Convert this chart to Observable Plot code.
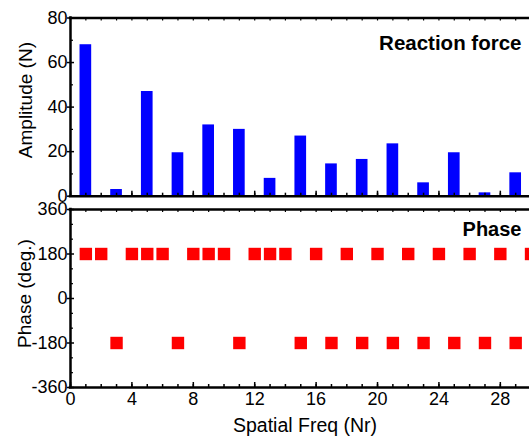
<!DOCTYPE html>
<html><head><meta charset="utf-8">
<script src="https://cdn.jsdelivr.net/npm/d3@7"></script>
<script src="https://cdn.jsdelivr.net/npm/@observablehq/plot@0.6"></script>
<style>body{margin:0;background:#fff;} svg{display:block;overflow:visible;}</style>
</head><body><div id="chart"></div>
<script>
// ---- data ----
const barFreq = [1, 3, 5, 7, 9, 11, 13, 15, 17, 19, 21, 23, 25, 27, 29];
const amplitude = [68, 3, 47, 19.5, 32, 30, 8, 27, 14.5, 16.5, 23.5, 6, 19.5, 1.5, 10.5];
const phaseFreq = [1,2,3,4,5,6,7,8,9,10,11,12,13,14,15,16,17,18,19,20,21,22,23,24,25,26,27,28,29,30];
const phaseDeg = [180,180,-180,180,180,180,-180,180,180,180,-180,180,180,180,-180,180,-180,180,-180,180,-180,180,-180,180,-180,180,-180,180,-180,180];
const xTicks = [0, 4, 8, 12, 16, 20, 24, 28];
const ampTicks = [0, 20, 40, 60, 80];
const phaseTicks = [-360, -180, 0, 180, 360];
const xMinor = d3.range(0, 30, 1);
const ampMinor = [10, 30, 50, 70];
const phaseMinor = [-300, -240, -120, -60, 60, 120, 240, 300];

const bars = barFreq.map((f, i) => ({f, amp: amplitude[i]}));
const phase = phaseFreq.map((f, i) => ({f, deg: phaseDeg[i]}));

const W = 529, ML = 70, MR = 0;
const font = "'Liberation Sans', Arial, sans-serif";
const xDomain = [0, 29.9];
const halfBar = 0.38;
const frameW = 2.5;

function ticksFor(H, yMajor, yMinor) {
  const PW = W - ML - MR;
  return [
    Plot.tickX(xMinor, {x: d => d, insetTop: H - 3, stroke: "#000", strokeWidth: 1.5}),
    Plot.tickX(xTicks, {x: d => d, insetTop: H - 5, stroke: "#000", strokeWidth: 1.5}),
    Plot.tickX(xMinor, {x: d => d, insetBottom: H - 3, stroke: "#000", strokeWidth: 1.2}),
    Plot.tickY(yMinor, {y: d => d, insetRight: PW - 3, stroke: "#000", strokeWidth: 1.2}),
    Plot.tickY(yMajor, {y: d => d, insetLeft: -3, insetRight: PW - 4, stroke: "#000", strokeWidth: 1.5})
  ];
}

// ---- top panel ----
const topMT = 17.5, topMB = 4.3, topH = 200;
const topPH = topH - topMT - topMB;
const topChart = Plot.plot({
  width: W, height: topH,
  marginLeft: ML, marginRight: MR, marginTop: topMT, marginBottom: topMB,
  style: {fontFamily: font, fontSize: "18px", color: "#000", background: "transparent", overflow: "visible"},
  x: {domain: xDomain, axis: null},
  y: {domain: [0, 80]},
  marks: [
    Plot.rectY(bars, {x1: d => d.f - halfBar, x2: d => d.f + halfBar, y: "amp", fill: "#0000ff"}),
    ...ticksFor(topPH, ampTicks, ampMinor),
    Plot.axisY({ticks: ampTicks, tickSize: 0, tickPadding: 3, label: null, tickFormat: d => String(d), fontSize: 18}),
    Plot.ruleY([80], {stroke: "#000", strokeWidth: frameW, strokeLinecap: "square"}),
    Plot.ruleY([0], {stroke: "#000", strokeWidth: frameW, strokeLinecap: "square"}),
    Plot.ruleX([0], {stroke: "#000", strokeWidth: frameW, strokeLinecap: "square"}),
    Plot.text(["Reaction force"], {frameAnchor: "top-right", textAnchor: "end", lineAnchor: "top", dx: -8, dy: 17, fontSize: 20.5, fontWeight: "bold"}),
    Plot.text(["Amplitude (N)"], {frameAnchor: "left", rotate: -90, textAnchor: "middle", lineAnchor: "middle", dx: -45, dy: -7, fontSize: 19})
  ]
});

// ---- bottom panel ----
const botMT = 9, botMB = 50, botH = 237;
const botPH = botH - botMT - botMB;
const bottomChart = Plot.plot({
  width: W, height: botH,
  marginLeft: ML, marginRight: MR, marginTop: botMT, marginBottom: botMB,
  style: {fontFamily: font, fontSize: "18px", color: "#000", background: "transparent", overflow: "visible"},
  x: {domain: xDomain},
  y: {domain: [-360, 360]},
  marks: [
    Plot.dot(phase, {x: "f", y: "deg", symbol: "square", r: 7, fill: "#ff0000", stroke: "none"}),
    ...ticksFor(botPH, phaseTicks, phaseMinor),
    Plot.axisY({ticks: phaseTicks, tickSize: 0, tickPadding: 3, label: null, tickFormat: d => String(d), fontSize: 18}),
    Plot.axisX({ticks: xTicks, tickSize: 0, tickPadding: 5, label: null, tickFormat: d => String(d), fontSize: 18}),
    Plot.ruleY([360], {stroke: "#000", strokeWidth: frameW, strokeLinecap: "square"}),
    Plot.ruleY([-360], {stroke: "#000", strokeWidth: frameW, strokeLinecap: "square"}),
    Plot.ruleX([0], {stroke: "#000", strokeWidth: frameW, strokeLinecap: "square"}),
    Plot.text(["Phase"], {frameAnchor: "top-right", textAnchor: "end", lineAnchor: "top", dx: -8, dy: 12.5, fontSize: 20, fontWeight: "bold"}),
    Plot.text(["Phase (deg.)"], {frameAnchor: "left", rotate: -90, textAnchor: "middle", lineAnchor: "middle", dx: -46, dy: -5, fontSize: 19}),
    Plot.text(["Spatial Freq (Nr)"], {frameAnchor: "bottom", textAnchor: "middle", lineAnchor: "bottom", dx: 5, dy: 44, fontSize: 19.5})
  ]
});

const el = document.getElementById("chart");
el.appendChild(topChart);
el.appendChild(bottomChart);
</script></body></html>
